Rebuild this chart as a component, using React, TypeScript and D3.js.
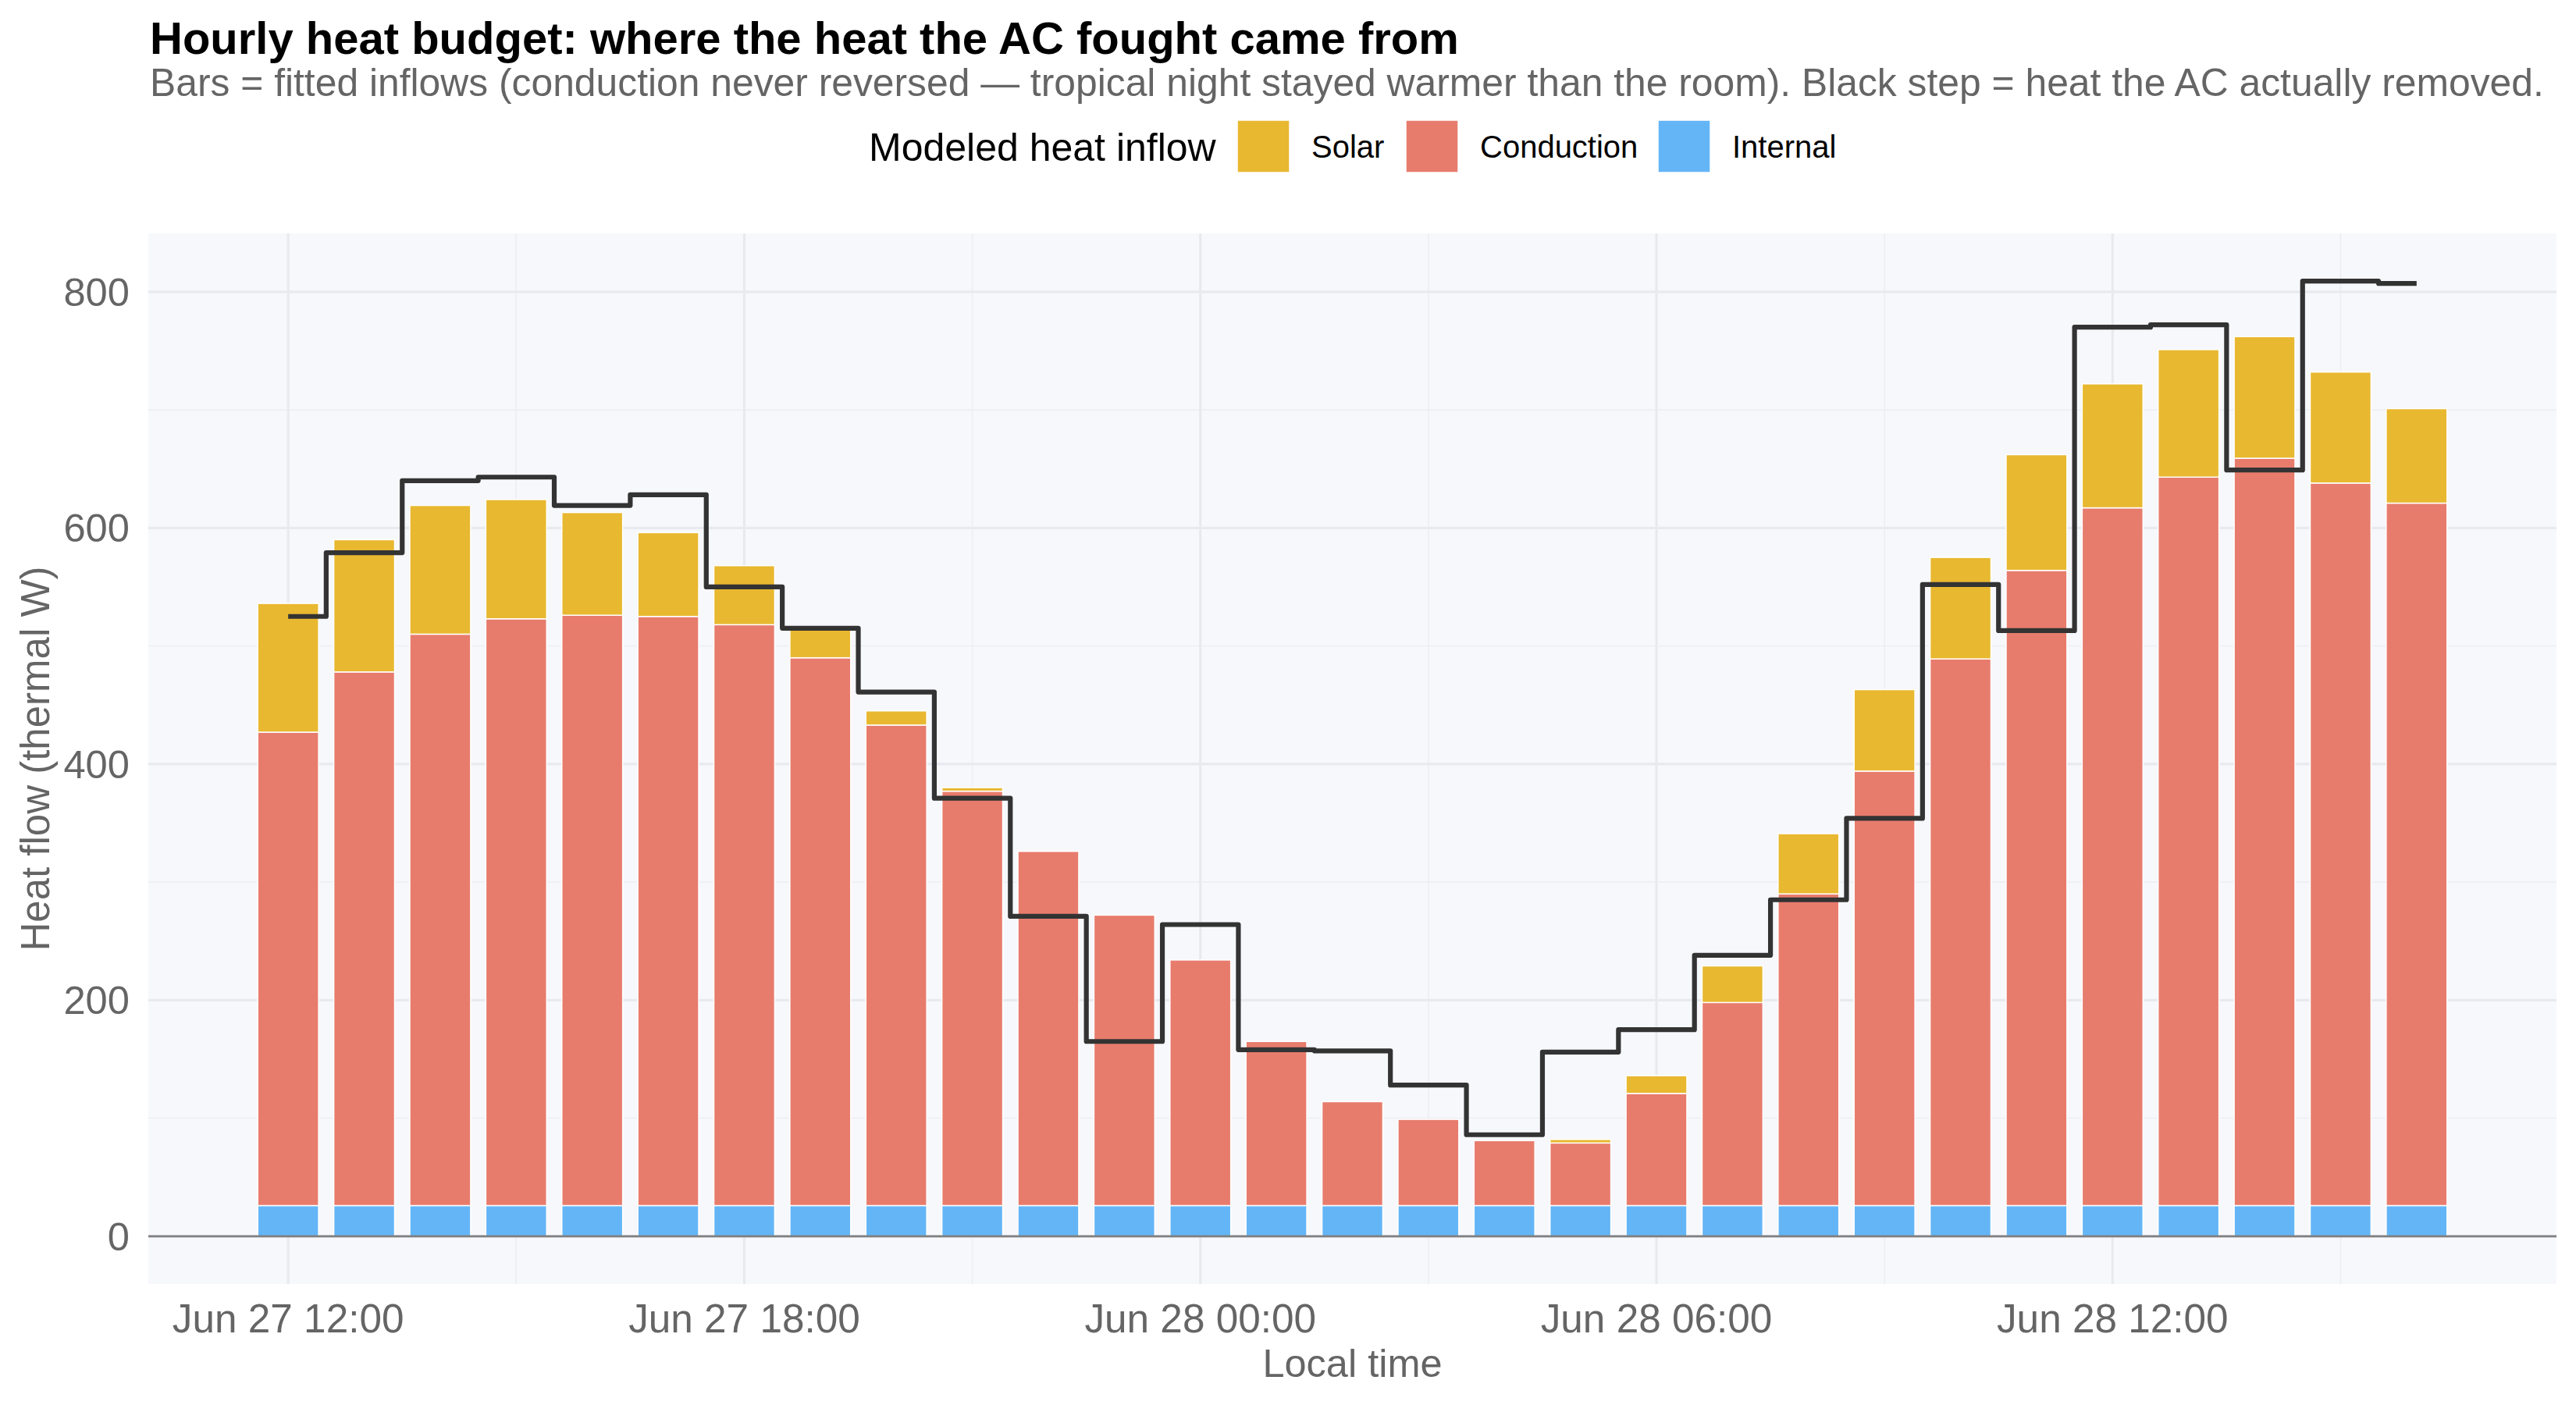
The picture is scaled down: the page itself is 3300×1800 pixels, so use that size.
import React from "react";
import * as d3 from "d3";

// Hourly timestamps (local time)
const hourStamps = [
  "2024-06-27T12:00", "2024-06-27T13:00", "2024-06-27T14:00", "2024-06-27T15:00",
  "2024-06-27T16:00", "2024-06-27T17:00", "2024-06-27T18:00", "2024-06-27T19:00",
  "2024-06-27T20:00", "2024-06-27T21:00", "2024-06-27T22:00", "2024-06-27T23:00",
  "2024-06-28T00:00", "2024-06-28T01:00", "2024-06-28T02:00", "2024-06-28T03:00",
  "2024-06-28T04:00", "2024-06-28T05:00", "2024-06-28T06:00", "2024-06-28T07:00",
  "2024-06-28T08:00", "2024-06-28T09:00", "2024-06-28T10:00", "2024-06-28T11:00",
  "2024-06-28T12:00", "2024-06-28T13:00", "2024-06-28T14:00", "2024-06-28T15:00",
  "2024-06-28T16:00",
];

// Modeled heat inflows (thermal W)
const solarW = [109, 112, 109, 101, 87, 71, 50, 24, 12, 3, 0, 0, 0, 0, 0, 0, 0, 3, 15, 31, 51, 69, 86, 98, 105, 108, 103, 94, 80];
const conductionW = [401, 452, 484, 497, 500, 499, 492, 464, 407, 351, 300, 246, 208, 139, 88, 73, 55, 53, 95, 172, 264, 368, 463, 538, 591, 617, 633, 612, 595];
const internalW = [26, 26, 26, 26, 26, 26, 26, 26, 26, 26, 26, 26, 26, 26, 26, 26, 26, 26, 26, 26, 26, 26, 26, 26, 26, 26, 26, 26, 26];

// Heat the AC actually removed (thermal W)
const acRemovedW = [525, 579, 640, 643, 619, 628, 550, 515, 461, 371, 271, 165, 264, 158, 157, 128, 86, 156, 175, 238, 285, 354, 552, 513, 770, 772, 649, 809, 807];

const stackKeys = ["Internal", "Conduction", "Solar"];
const legendKeys = ["Solar", "Conduction", "Internal"];
const yTickValues = [0, 200, 400, 600, 800];

const fillFor: Record<string, string> = {
  Solar: "#E8B830",
  Conduction: "#E77C6D",
  Internal: "#64B5F6",
};

const W = 3300;
const H = 1800;
const panel = { left: 190, right: 3275, top: 299, bottom: 1645 };
const FONT = "'Liberation Sans', Arial, Helvetica, sans-serif";
const GREY = "#656565";

export default function App() {
  const parse = d3.timeParse("%Y-%m-%dT%H:%M");
  const times = hourStamps.map((s) => parse(s) as Date);
  const rows = times.map((t, i) => ({
    t,
    Internal: internalW[i],
    Conduction: conductionW[i],
    Solar: solarW[i],
    ac: acRemovedW[i],
  }));

  const hourMs = 3600 * 1000;
  const barMs = 0.8 * hourMs;
  const tMin = times[0].getTime() - barMs / 2;
  const tMax = times[times.length - 1].getTime() + barMs / 2;
  const xPad = (tMax - tMin) * 0.05;
  const x = d3
    .scaleTime()
    .domain([new Date(tMin - xPad), new Date(tMax + xPad)])
    .range([panel.left, panel.right]);

  const stacked = d3.stack<any>().keys(stackKeys)(rows);
  const yMax = d3.max([
    d3.max(rows, (r) => r.Internal + r.Conduction + r.Solar) as number,
    d3.max(rows, (r) => r.ac) as number,
  ]) as number;
  const y = d3
    .scaleLinear()
    .domain([-0.05 * yMax, 1.05 * yMax])
    .range([panel.bottom, panel.top]);

  const xMajor = x.ticks(d3.timeHour.every(6) as any);
  const xMinor = x
    .ticks(d3.timeHour.every(3) as any)
    .filter((t) => !xMajor.some((m) => m.getTime() === t.getTime()));
  const yMinor = yTickValues.slice(1).map((v, i) => (v + yTickValues[i]) / 2);
  const fmt = d3.timeFormat("%b %d %H:%M");

  const barW = x(new Date(times[0].getTime() + barMs)) - x(times[0]);

  const stepLine = d3
    .line<any>()
    .x((d) => x(d.t))
    .y((d) => y(d.ac))
    .curve(d3.curveStep);

  // legend layout
  const legendY = 154;
  const keySize = 67;
  const legendItems = [
    { key: "Solar", x: 1585 },
    { key: "Conduction", x: 1801 },
    { key: "Internal", x: 2124 },
  ];

  return (
    <div style={{ position: "absolute", left: 0, top: 0 }}>
      <svg width={W} height={H} style={{ display: "block", background: "#fff" }} fontFamily={FONT}>
        {/* title block */}
        <text x={192} y={69} fontSize={58} fontWeight="bold" fill="#000">
          Hourly heat budget: where the heat the AC fought came from
        </text>
        <text x={192} y={123} fontSize={49.8} fill={GREY}>
          Bars = fitted inflows (conduction never reversed — tropical night stayed warmer than the room). Black step = heat the AC actually removed.
        </text>

        {/* legend */}
        <text x={1113} y={206} fontSize={50} fill="#000">
          Modeled heat inflow
        </text>
        {legendKeys.map((k) => {
          const item = legendItems.find((l) => l.key === k)!;
          return (
            <g key={k}>
              <rect x={item.x} y={legendY} width={keySize} height={keySize} fill={fillFor[k]} stroke="#fff" strokeWidth={1.5} />
              <text x={item.x + keySize + 28} y={legendY + keySize / 2 + 14} fontSize={40} fill="#000">
                {k}
              </text>
            </g>
          );
        })}

        {/* panel */}
        <rect x={panel.left} y={panel.top} width={panel.right - panel.left} height={panel.bottom - panel.top} fill="#F7F8FC" />
        {yMinor.map((v) => (
          <line key={"ym" + v} x1={panel.left} x2={panel.right} y1={y(v)} y2={y(v)} stroke="#ECEEF2" strokeWidth={1.6} />
        ))}
        {xMinor.map((t) => (
          <line key={"xm" + t.getTime()} x1={x(t)} x2={x(t)} y1={panel.top} y2={panel.bottom} stroke="#ECEEF2" strokeWidth={1.6} />
        ))}
        {yTickValues.map((v) => (
          <line key={"yM" + v} x1={panel.left} x2={panel.right} y1={y(v)} y2={y(v)} stroke="#E8EAEF" strokeWidth={3.2} />
        ))}
        {xMajor.map((t) => (
          <line key={"xM" + t.getTime()} x1={x(t)} x2={x(t)} y1={panel.top} y2={panel.bottom} stroke="#E8EAEF" strokeWidth={3.2} />
        ))}

        {/* stacked bars */}
        {stacked.map((layer) => (
          <g key={layer.key} fill={fillFor[layer.key]}>
            {layer.map((seg, i) =>
              seg[1] - seg[0] > 0 ? (
                <rect
                  key={i}
                  x={x(rows[i].t) - barW / 2}
                  y={y(seg[1])}
                  width={barW}
                  height={y(seg[0]) - y(seg[1])}
                  stroke="#fff"
                  strokeWidth={1.5}
                />
              ) : null
            )}
          </g>
        ))}

        {/* zero axis line */}
        <line x1={panel.left} x2={panel.right} y1={y(0)} y2={y(0)} stroke="#808080" strokeWidth={2.8} />

        {/* AC removal step */}
        <path d={stepLine(rows) as string} fill="none" stroke="#333333" strokeWidth={6.2} strokeLinejoin="round" strokeLinecap="butt" />

        {/* y axis */}
        {yTickValues.map((v) => (
          <text key={"yl" + v} x={166} y={y(v) + 18} fontSize={50.7} fill={GREY} textAnchor="end">
            {v}
          </text>
        ))}
        <text transform={`translate(63, ${(panel.top + panel.bottom) / 2}) rotate(-90)`} fontSize={51} fill={GREY} textAnchor="middle">
          Heat flow (thermal W)
        </text>

        {/* x axis */}
        {xMajor.map((t) => (
          <text key={"xl" + t.getTime()} x={x(t)} y={1707} fontSize={51.3} fill={GREY} textAnchor="middle">
            {fmt(t)}
          </text>
        ))}
        <text x={(panel.left + panel.right) / 2} y={1764} fontSize={50.5} fill={GREY} textAnchor="middle">
          Local time
        </text>
      </svg>
    </div>
  );
}
